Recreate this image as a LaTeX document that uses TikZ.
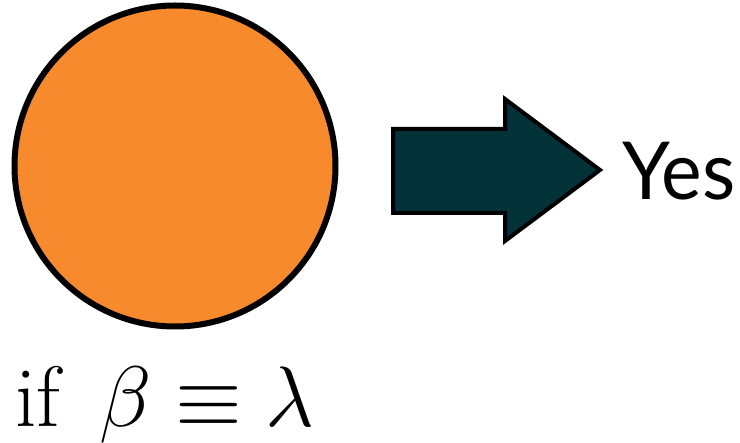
\documentclass[tikz,border=0pt]{standalone}
\usepackage{fontspec}
\newfontfamily\yesfont{Lato}
\definecolor{orangefill}{HTML}{F78A2C}
\definecolor{tealfill}{HTML}{033238}
\begin{document}
\begin{tikzpicture}[x=1pt,y=-1pt,
  ball/.style={circle,draw=black,line width=6pt,fill=orangefill,minimum size=321pt,inner sep=0pt},
  bigarrow/.style={draw=black,line width=4pt,fill=tealfill,line join=miter},
  yeslabel/.style={anchor=base west,inner sep=0pt,font=\yesfont\fontsize{80}{80}\selectfont},
  mathlabel/.style={anchor=base west,inner sep=0pt}]
\useasboundingbox (0,0) rectangle (740,443);
\node[ball] (c) at (175,166) {};
\draw[bigarrow] (393,129) -- (505,129) -- (505,99) -- (600,170) -- (505,241) -- (505,213) -- (393,213) -- cycle;
\node[yeslabel] (yes) at (622,200) {\scalebox{0.96}[1]{Yes}};
\node[mathlabel] (cond) at (15,427) {\scalebox{3.45}{\Huge if\hspace{0.15em} $\beta\equiv\lambda$}};
\end{tikzpicture}
\end{document}
